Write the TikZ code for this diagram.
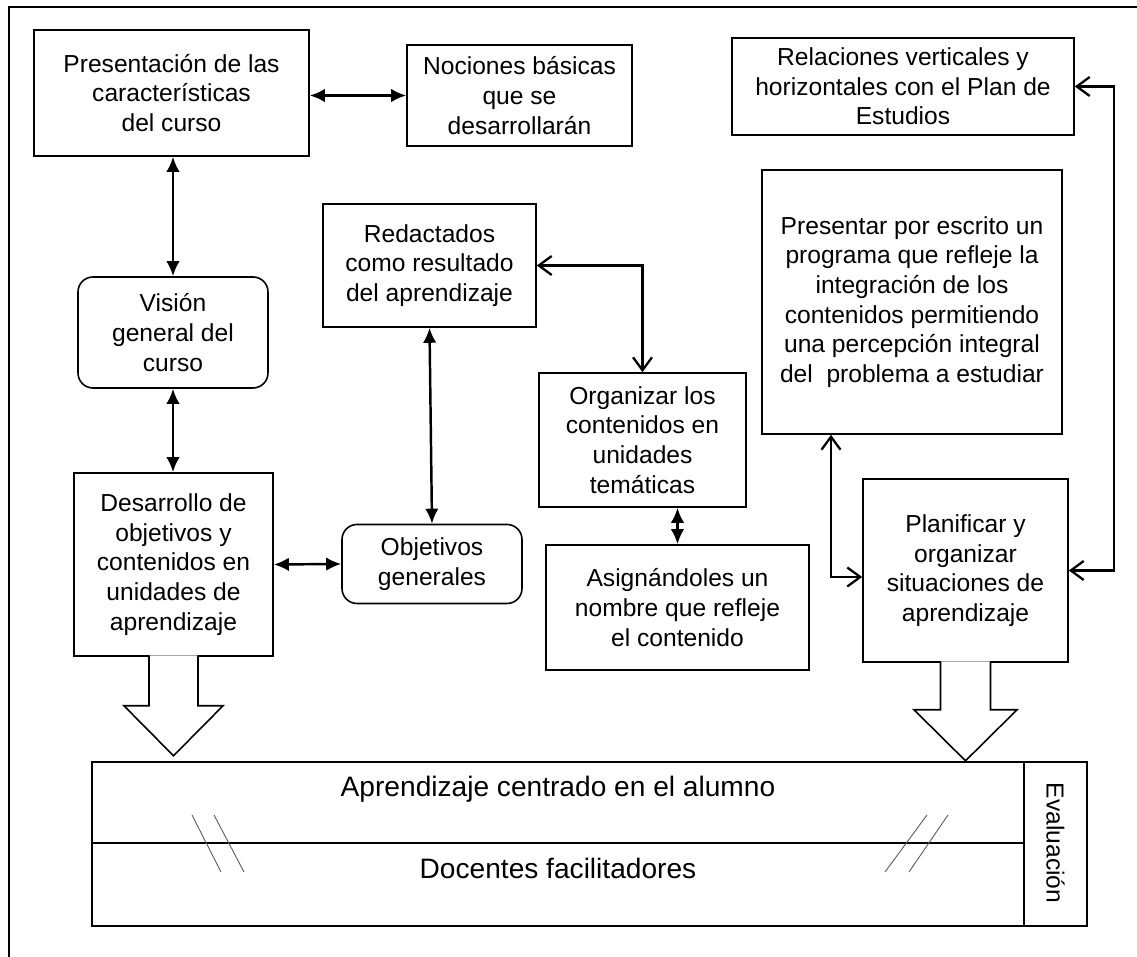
\documentclass[tikz,border=0pt]{standalone}
\usepackage{fontspec}
\setmainfont{Liberation Sans}
\usepackage{tikz}
\usetikzlibrary{arrows.meta, positioning, calc}
\newcommand{\boxfont}{\fontsize{14}{16.9}\selectfont}
\newcommand{\bandfont}{\fontsize{16}{19}\selectfont}
\tikzstyle{box} = [rectangle, draw, line width=0.9pt, align=center, inner sep=2pt, font=\boxfont]
\tikzstyle{softbox} = [box, rounded corners=0.3cm]
\tikzstyle{arrow} = [line width=1.4pt, {Latex[length=3mm,width=2.7mm]}-{Latex[length=3mm,width=2.7mm]}]
\tikzstyle{openarrow} = [line width=1.3pt, {Straight Barb[length=2.6mm,width=3.8mm]}-{Straight Barb[length=2.6mm,width=3.8mm]}]
\tikzstyle{bigarrow} = [line width=0.9pt, fill=white]
\tikzstyle{slash} = [line width=0.5pt, black!65]
\tikzstyle{bandtext} = [font=\bandfont, inner sep=0pt]

\begin{document}
\begin{tikzpicture}
    \useasboundingbox (0,0) rectangle (22.74,19.14);
    % outer frame
    \draw[line width=1pt] (0.18,-0.2) -- (0.18,19.0) -- (23,19.0);

    % left column
    \node[box, minimum width=5.5cm, minimum height=2.52cm] (pres) at (3.43,17.28) {Presentación de las\\características\\del curso};
    \node[box, minimum width=4.5cm, minimum height=2.02cm] (noc) at (10.39,17.23) {Nociones básicas\\que se\\desarrollarán};
    \node[softbox, minimum width=3.8cm, minimum height=2.22cm] (vis) at (3.46,12.49) {Visión\\general del\\curso};
    \node[box, minimum width=3.98cm, minimum height=3.66cm] (des) at (3.47,7.85) {Desarrollo de\\objetivos y\\contenidos en\\unidades de\\aprendizaje};

    % middle column
    \node[box, minimum width=4.26cm, minimum height=2.46cm] (red) at (8.59,13.83) {Redactados\\como resultado\\del aprendizaje};
    \node[softbox, minimum width=3.6cm, minimum height=1.58cm] (obj) at (8.64,7.86) {Objetivos\\generales};
    \node[box, minimum width=4.14cm, minimum height=2.68cm] (org) at (12.85,10.34) {Organizar los\\contenidos en\\unidades\\temáticas};
    \node[box, minimum width=5.26cm, minimum height=2.5cm] (asig) at (13.55,6.99) {Asignándoles un\\nombre que refleje\\el contenido};

    % right column
    \node[box, minimum width=6.84cm, minimum height=1.94cm] (rel) at (18.06,17.41) {Relaciones verticales y\\horizontales con el Plan de\\Estudios};
    \node[box, minimum width=6cm, minimum height=5.28cm] (prog) at (18.24,13.10) {Presentar por escrito un\\programa que refleje la\\integración de los\\contenidos permitiendo\\una percepción integral\\del\ \ problema a estudiar};
    \node[box, minimum width=4.1cm, minimum height=3.66cm] (plan) at (19.31,7.73) {Planificar y\\organizar\\situaciones de\\aprendizaje};

    % block arrows
    \draw[bigarrow] ([shift={(-0.49,0.03)}]des.south) -- ([shift={(-0.49,-0.98)}]des.south) -- ([shift={(-0.99,-0.98)}]des.south) -- ([shift={(0,-1.98)}]des.south) -- ([shift={(0.99,-0.98)}]des.south) -- ([shift={(0.49,-0.98)}]des.south) -- ([shift={(0.49,0.03)}]des.south);
    \draw[bigarrow] ([shift={(-0.5,0.03)}]plan.south) -- ([shift={(-0.5,-0.94)}]plan.south) -- ([shift={(-1.03,-0.94)}]plan.south) -- ([shift={(0,-1.96)}]plan.south) -- ([shift={(1.03,-0.94)}]plan.south) -- ([shift={(0.5,-0.94)}]plan.south) -- ([shift={(0.5,0.03)}]plan.south);

    % band
    \draw[line width=0.9pt] (1.84,0.62) rectangle (21.74,3.90);
    \draw[line width=0.9pt] (20.48,0.62) -- (20.48,3.90);
    \draw[line width=0.9pt] (1.84,2.28) -- (20.48,2.28);
    \node[bandtext] (alum) at (11.16,3.36) {Aprendizaje centrado en el alumno};
    \node[bandtext] (doc) at (11.16,1.78) {Docentes facilitadores};
    \node[font=\boxfont, rotate=-90, inner sep=0pt] (eval) at (21.11,2.28) {Evaluación};
    \draw[slash] (3.84,2.84) -- (4.42,1.70);
    \draw[slash] (4.28,2.84) -- (4.88,1.70);
    \draw[slash] (18.54,2.84) -- (17.70,1.70);
    \draw[slash] (18.96,2.84) -- (18.18,1.70);

    % connectors
    \draw[arrow] (pres.east |- noc.west) -- (noc.west);
    \draw[arrow] (vis.north |- pres.south) -- (vis.north);
    \draw[arrow] (vis.south) -- (vis.south |- des.north);
    \draw[arrow] (des.east) -- (obj.west);
    \draw[arrow] (red.south) -- (obj.north);
    \draw[openarrow] (red.east) -| (org.north);
    \draw[arrow] (asig.north |- org.south) -- (asig.north);
    \draw[openarrow] ([xshift=-1.62cm]prog.south) |- ([yshift=-0.13cm]plan.west);
    \draw[openarrow] (rel.east) -- ++(0.78,0) |- (plan.east);
\end{tikzpicture}
\end{document}
